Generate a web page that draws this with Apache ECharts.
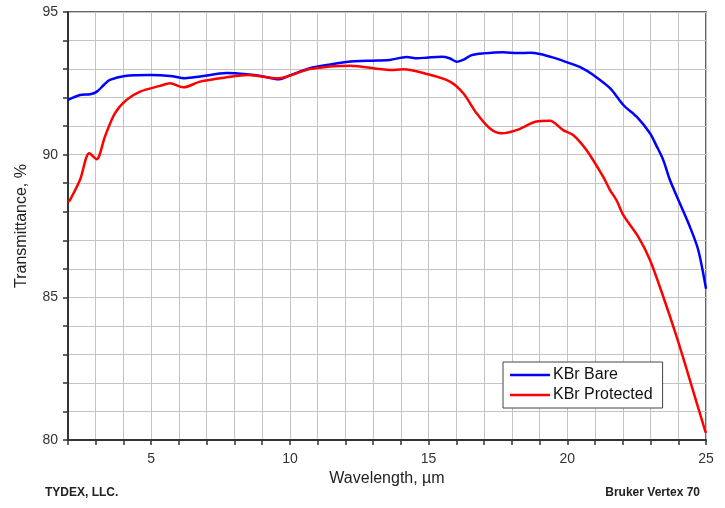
<!DOCTYPE html>
<html><head><meta charset="utf-8">
<script src="https://cdn.jsdelivr.net/npm/echarts@6/dist/echarts.min.js"></script>
<style>html,body{margin:0;padding:0;background:#fff}#c{width:725px;height:508px}</style>
</head><body><div id="c"></div>
<script>
const seriesNames = ['KBr Bare', 'KBr Protected'];
const bareWavelength = [2.0,2.43,2.8,3.03,3.3,3.51,4.05,4.96,5.68,6.22,6.76,7.72,8.44,9.0,9.58,10.0,10.72,11.4,12.04,13.13,13.6,14.21,14.6,14.93,15.47,15.75,16.01,16.3,16.55,16.97,17.69,18.2,18.65,19.01,19.5,20.1,20.5,20.94,21.54,22.02,22.5,22.98,23.22,23.46,23.7,24.06,24.42,24.72,25.0];
const bareT = [91.92,92.09,92.12,92.2,92.45,92.62,92.76,92.79,92.76,92.68,92.74,92.86,92.82,92.75,92.64,92.78,93.03,93.15,93.25,93.3,93.32,93.42,93.38,93.4,93.43,93.38,93.26,93.35,93.49,93.55,93.59,93.56,93.57,93.53,93.4,93.2,93.05,92.79,92.33,91.74,91.33,90.75,90.3,89.81,89.11,88.29,87.47,86.66,85.3];
const protWavelength = [2.0,2.07,2.43,2.77,3.03,3.33,3.69,4.11,4.6,5.32,5.68,6.16,6.76,7.72,8.49,9.58,10.72,12.17,13.61,14.09,14.93,15.77,16.25,16.73,17.21,17.63,18.17,18.89,19.37,19.85,20.21,20.69,21.29,21.54,21.77,22.02,22.56,22.98,23.46,23.94,24.42,24.96,25.0];
const protT = [88.35,88.41,89.11,90.05,89.84,90.63,91.45,91.92,92.21,92.41,92.5,92.36,92.56,92.71,92.79,92.68,93.0,93.12,92.97,92.99,92.83,92.56,92.15,91.45,90.92,90.75,90.86,91.16,91.19,90.86,90.69,90.16,89.23,88.76,88.41,87.88,87.12,86.31,85.02,83.62,82.1,80.35,80.25];
const xMin = 2, xMax = 25, yMin = 80, yMax = 95;
const labelStep = 5;

const pair = (xs, ys) => xs.map((x, i) => [x, ys[i]]);
const font = '"Liberation Sans", Arial, sans-serif';
const chart = echarts.init(document.getElementById('c'), null, {renderer: 'canvas'});
chart.setOption({
  animation: false,
  backgroundColor: '#fff',
  grid: {left: 68, right: 19, top: 12, bottom: 68, show: true, borderColor: '#333', borderWidth: 1.5, containLabel: false},
  legend: {
    orient: 'vertical', left: 503, top: 362,
    data: seriesNames,
    icon: 'rect',
    itemWidth: 40, itemHeight: 2.5, itemGap: 4,
    padding: [5, 10, 5, 7],
    borderColor: '#444', borderWidth: 1, backgroundColor: '#fff',
    textStyle: {fontFamily: font, fontSize: 16, color: '#111', padding: [0, 0, 0, -2]}
  },
  xAxis: {
    type: 'value', min: xMin, max: xMax, interval: 1,
    name: 'Wavelength, µm', nameLocation: 'middle', nameGap: 30,
    nameTextStyle: {fontFamily: font, fontSize: 16, color: '#222'},
    axisLine: {show: true, onZero: false, lineStyle: {color: '#333', width: 2}},
    axisTick: {show: true, inside: false, length: 5, lineStyle: {color: '#333', width: 1.5}},
    axisLabel: {fontFamily: font, fontSize: 14, color: '#333', margin: 12,
      formatter: v => (v % labelStep === 0 ? String(v) : '')},
    splitLine: {show: true, lineStyle: {color: '#c4c4c4', width: 1}}
  },
  yAxis: {
    type: 'value', min: yMin, max: yMax, interval: 1,
    name: 'Transmittance, %', nameLocation: 'middle', nameGap: 38, nameRotate: 90,
    nameTextStyle: {fontFamily: font, fontSize: 16, color: '#222'},
    axisLine: {show: true, onZero: false, lineStyle: {color: '#333', width: 2}},
    axisTick: {show: true, inside: false, length: 5, lineStyle: {color: '#333', width: 1.5}},
    axisLabel: {fontFamily: font, fontSize: 14, color: '#333', margin: 10,
      formatter: v => (v % labelStep === 0 ? String(v) : '')},
    splitLine: {show: true, lineStyle: {color: '#c4c4c4', width: 1}}
  },
  series: [
    {name: seriesNames[0], type: 'line', data: pair(bareWavelength, bareT), smooth: 0.3, symbol: 'none',
     lineStyle: {color: '#0000ff', width: 2.5}, itemStyle: {color: '#0000ff'}},
    {name: seriesNames[1], type: 'line', data: pair(protWavelength, protT), smooth: 0.3, symbol: 'none',
     lineStyle: {color: '#ff0000', width: 2.5}, itemStyle: {color: '#ff0000'}}
  ],
  graphic: [
    {type: 'text', left: 45, top: 487, style: {text: 'TYDEX, LLC.', fontFamily: font, fontSize: 12, fontWeight: 'bold', fill: '#222'}},
    {type: 'text', right: 25, top: 487, style: {text: 'Bruker Vertex 70', fontFamily: font, fontSize: 12, fontWeight: 'bold', fill: '#222'}}
  ]
});
</script></body></html>
